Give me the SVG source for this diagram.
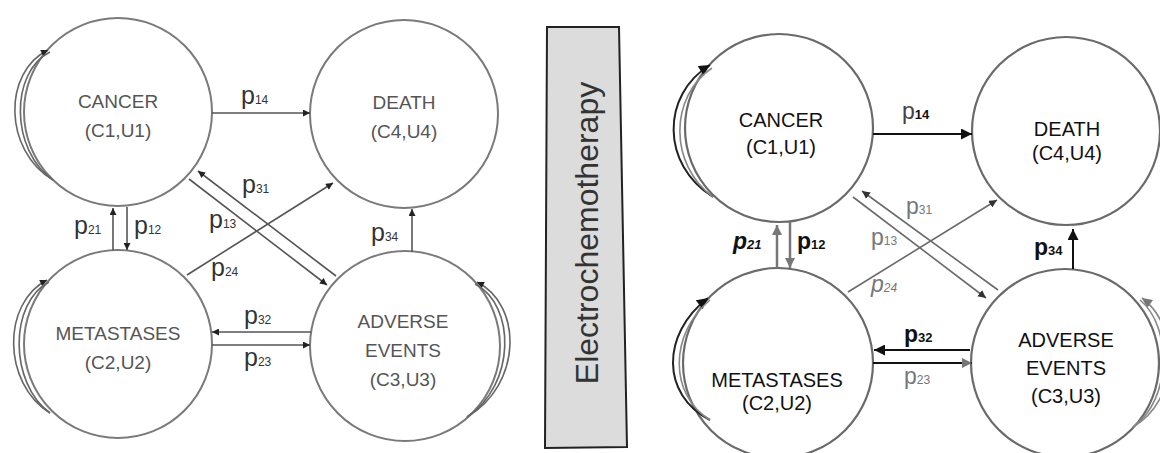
<svg xmlns="http://www.w3.org/2000/svg" width="1160" height="453" viewBox="0 0 1160 453">
<style>
.bg{fill:#fff}
.cl{fill:#fff;stroke:#7a7a7a;stroke-width:2}
.cr{fill:#fff;stroke:#6a6a6a;stroke-width:2.2}
.nl{font-family:"Liberation Sans",Arial,sans-serif;font-size:19px;fill:#555;text-anchor:middle}
.nr{font-family:"Liberation Sans",Arial,sans-serif;font-size:20px;fill:#111;text-anchor:middle}
.lp{font-family:"Liberation Sans",Arial,sans-serif;font-size:25px;fill:#333}
.ls{font-size:12px}
.rb{font-family:"Liberation Sans",Arial,sans-serif;font-size:23px;fill:#111;font-weight:bold}
.rbs{font-size:13px}
.rg{font-family:"Liberation Sans",Arial,sans-serif;font-size:23px;fill:#777}
.rgs{font-size:12px}
.el{fill:none;stroke:#555;stroke-width:1.6}
.loopl{fill:none;stroke:#666;stroke-width:1.6}
.er{fill:none;stroke:#111;stroke-width:2}
.eg{fill:none;stroke:#777;stroke-width:2.5}
.ed{fill:none;stroke:#6a6a6a;stroke-width:1.6}
.loopr{fill:none;stroke:#222;stroke-width:2}
.loopr2{fill:none;stroke:#888;stroke-width:1.6}
</style>
<defs>
<marker id="al" viewBox="0 0 10 10" refX="10" refY="5" markerWidth="8" markerHeight="7" markerUnits="userSpaceOnUse" orient="auto"><path d="M0,0 L10,5 L0,10 z" fill="#222"/></marker>
<marker id="ab" viewBox="0 0 10 10" refX="10" refY="5" markerWidth="12" markerHeight="11" markerUnits="userSpaceOnUse" orient="auto"><path d="M0,0 L10,5 L0,10 z" fill="#111"/></marker>
<marker id="ag" viewBox="0 0 10 10" refX="10" refY="5" markerWidth="11" markerHeight="10" markerUnits="userSpaceOnUse" orient="auto"><path d="M0,0 L10,5 L0,10 z" fill="#777"/></marker>
<marker id="ad" viewBox="0 0 10 10" refX="10" refY="5" markerWidth="8" markerHeight="8" markerUnits="userSpaceOnUse" orient="auto"><path d="M0,0 L10,5 L0,10 z" fill="#333"/></marker>
</defs>
<rect class="bg" x="0" y="0" width="1160" height="453"/>

<!-- LEFT DIAGRAM NODES -->
<g id="l-cancer"><circle class="cl" cx="118" cy="112" r="94"/><text class="nl" x="118" y="108">CANCER</text><text class="nl" x="118" y="137">(C1,U1)</text></g>
<g id="l-death"><circle class="cl" cx="404" cy="114" r="94"/><text class="nl" x="404" y="109">DEATH</text><text class="nl" x="404" y="138">(C4,U4)</text></g>
<g id="l-meta"><circle class="cl" cx="118" cy="344" r="94"/><text class="nl" x="118" y="340">METASTASES</text><text class="nl" x="118" y="369">(C2,U2)</text></g>
<g id="l-adverse"><circle class="cl" cx="405" cy="346" r="95"/><text class="nl" x="403" y="328">ADVERSE</text><text class="nl" x="403" y="357">EVENTS</text><text class="nl" x="403" y="386">(C3,U3)</text></g>

<!-- LEFT CONNECTORS -->
<g id="l-edges">
<path class="loopl" d="M53,180 C3,150 3,72 48,50" marker-end="url(#al)"/>
<path class="loopl" d="M53,180 C10,150 10,72 50,52"/>
<path class="loopl" d="M50,413 C2,383 2,303 47,280" marker-end="url(#al)"/>
<path class="loopl" d="M50,413 C9,383 9,303 49,282"/>
<path class="loopl" d="M467,417 C522,385 523,305 477,282" marker-end="url(#al)"/>
<path class="loopl" d="M467,417 C516,385 516,305 475,284"/>
<line class="el" x1="212" y1="113" x2="310" y2="113" marker-end="url(#al)"/>
<line class="el" x1="113" y1="250" x2="113" y2="208" marker-end="url(#al)"/>
<line class="el" x1="127" y1="207" x2="127" y2="250" marker-end="url(#al)"/>
<line class="el" x1="336" y1="276" x2="198" y2="171" marker-end="url(#al)"/>
<line class="el" x1="189" y1="179" x2="327" y2="285" marker-end="url(#al)"/>
<line class="el" x1="187" y1="275" x2="333" y2="183" marker-end="url(#al)"/>
<line class="el" x1="412" y1="252" x2="412" y2="209" marker-end="url(#al)"/>
<line class="el" x1="311" y1="332" x2="212" y2="332" marker-end="url(#al)"/>
<line class="el" x1="212" y1="345" x2="310" y2="345" marker-end="url(#al)"/>
<text class="lp" x="241" y="104">p<tspan class="ls">14</tspan></text>
<text class="lp" x="242" y="193">p<tspan class="ls">31</tspan></text>
<text class="lp" x="209" y="228">p<tspan class="ls">13</tspan></text>
<text class="lp" x="211" y="276">p<tspan class="ls">24</tspan></text>
<text class="lp" x="74" y="234">p<tspan class="ls">21</tspan></text>
<text class="lp" x="134" y="234">p<tspan class="ls">12</tspan></text>
<text class="lp" x="371" y="241">p<tspan class="ls">34</tspan></text>
<text class="lp" x="244" y="324">p<tspan class="ls">32</tspan></text>
<text class="lp" x="244" y="366">p<tspan class="ls">23</tspan></text>
</g>

<!-- ELECTROCHEMOTHERAPY ARROW BOX -->
<g id="electro">
<polygon points="547,27 619,27 627,447 545,448" fill="#dcdcdc" stroke="#222" stroke-width="2"/>
<text x="0" y="0" transform="translate(598,233) rotate(-90)" font-family="'Liberation Sans',Arial,sans-serif" font-size="32" fill="#333" text-anchor="middle">Electrochemotherapy</text>
</g>

<!-- RIGHT DIAGRAM NODES -->
<g id="r-cancer"><circle class="cr" cx="779" cy="128" r="94"/><text class="nr" x="781" y="127">CANCER</text><text class="nr" x="781" y="154">(C1,U1)</text></g>
<g id="r-death"><circle class="cr" cx="1066" cy="131" r="94"/><text class="nr" x="1067" y="136">DEATH</text><text class="nr" x="1067" y="160">(C4,U4)</text></g>
<g id="r-meta"><circle class="cr" cx="778" cy="363" r="95"/><text class="nr" x="777" y="387">METASTASES</text><text class="nr" x="777" y="410">(C2,U2)</text></g>
<g id="r-adverse"><circle class="cr" cx="1065" cy="363" r="94"/><text class="nr" x="1066" y="347">ADVERSE</text><text class="nr" x="1066" y="375">EVENTS</text><text class="nr" x="1066" y="403">(C3,U3)</text></g>

<!-- RIGHT CONNECTORS -->
<g id="r-edges">
<path class="loopr" d="M713,197 C661,165 661,95 710,65" marker-end="url(#ab)"/>
<path class="loopr2" d="M713,197 C669,165 669,97 712,68"/>
<path class="loopr" d="M710,420 C661,395 661,334 708,298" marker-end="url(#ab)"/>
<path class="loopr2" d="M710,420 C669,395 669,334 710,300"/>
<path class="loopr2" d="M1133,427 C1180,400 1180,326 1142,298" marker-end="url(#ag)"/>
<path class="loopr2" d="M1133,427 C1172,400 1172,326 1140,300"/>
<line class="er" x1="873" y1="134" x2="972" y2="134" marker-end="url(#ab)"/>
<line class="eg" x1="777" y1="268" x2="777" y2="225" marker-end="url(#ag)"/>
<line class="eg" x1="790" y1="222" x2="790" y2="268" marker-end="url(#ag)"/>
<line class="ed" x1="998" y1="290" x2="862" y2="191" marker-end="url(#ad)"/>
<line class="ed" x1="853" y1="197" x2="986" y2="298" marker-end="url(#ad)"/>
<line class="ed" x1="848" y1="292" x2="997" y2="200" marker-end="url(#ad)"/>
<line class="er" x1="1073" y1="269" x2="1073" y2="229" marker-end="url(#ab)"/>
<line class="er" x1="970" y1="350" x2="874" y2="350" marker-end="url(#ab)"/>
<line class="er" x1="873" y1="363" x2="972" y2="363" stroke="#333" marker-end="url(#ag)"/>
<text class="rg" x="902" y="119" style="fill:#444">p<tspan class="rbs" font-weight="bold" style="fill:#111">14</tspan></text>
<text class="rb" x="733" y="249" font-style="italic">p<tspan class="rbs">21</tspan></text>
<text class="rb" x="797" y="249">p<tspan class="rbs">12</tspan></text>
<text class="rg" x="906" y="214">p<tspan class="rgs">31</tspan></text>
<text class="rg" x="871" y="245">p<tspan class="rgs">13</tspan></text>
<text class="rg" x="871" y="292" font-style="italic">p<tspan class="rgs">24</tspan></text>
<text class="rb" x="1034" y="255">p<tspan class="rbs">34</tspan></text>
<text class="rb" x="904" y="342">p<tspan class="rbs">32</tspan></text>
<text class="rg" x="904" y="384">p<tspan class="rgs">23</tspan></text>
</g>
</svg>
